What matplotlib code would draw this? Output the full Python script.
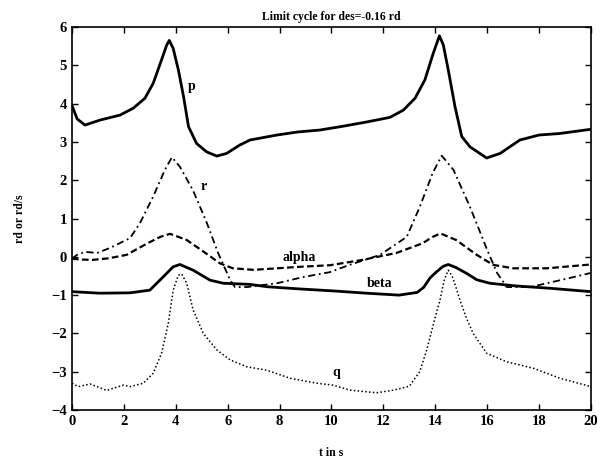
import numpy as np
import matplotlib
matplotlib.use('Agg')
from matplotlib import pyplot as plt

plt.rcParams['font.family'] = ['Liberation Serif', 'DejaVu Serif']
plt.rcParams['font.weight'] = 'bold'

# p (solid, thick)
t_p = [0, 0.2, 0.5, 1.08, 1.85, 2.36, 2.81, 3.13, 3.45, 3.65, 3.75, 3.9, 4.1, 4.3, 4.49, 4.8,
       5.19, 5.58, 5.96, 6.47, 6.86, 7.9, 8.7, 9.55, 10.45, 11.35, 12.25, 12.77, 13.22, 13.6,
       13.92, 14.16, 14.31, 14.5, 14.76, 15.02, 15.34, 15.98, 16.5, 17.26, 18.0, 18.8, 20.0]
p = [3.95, 3.6, 3.44, 3.57, 3.7, 3.88, 4.14, 4.53, 5.14, 5.53, 5.65, 5.44, 4.88, 4.18, 3.4, 2.96,
     2.74, 2.63, 2.7, 2.92, 3.05, 3.18, 3.26, 3.31, 3.41, 3.52, 3.64, 3.83, 4.14, 4.62,
     5.31, 5.77, 5.53, 4.88, 3.92, 3.14, 2.87, 2.58, 2.7, 3.05, 3.18, 3.22, 3.33]

# r (dash-dot)
t_r = [0, 0.19, 0.5, 0.96, 1.46, 2.24, 2.62, 3.12, 3.58, 3.85, 4.16, 4.66, 5.2, 5.63, 6.09, 6.28,
       6.74, 7.9, 8.9, 9.94, 10.7, 11.87, 12.9, 13.4, 13.9, 14.25, 14.7, 15.34, 16.0, 16.38,
       16.76, 17.65, 18.3, 19.2, 20.0]
r = [-0.05, 0.05, 0.13, 0.1, 0.23, 0.49, 0.88, 1.56, 2.27, 2.6, 2.35, 1.74, 0.88, 0.1, -0.6, -0.79,
     -0.79, -0.69, -0.53, -0.4, -0.21, 0.05, 0.52, 1.3, 2.19, 2.64, 2.27, 1.3, 0.18, -0.42,
     -0.79, -0.79, -0.69, -0.55, -0.42]

# alpha (dashed)
t_a = [0, 0.3, 0.8, 1.4, 2.1, 2.9, 3.4, 3.78, 4.42, 5.06, 5.7, 6.2, 7.0, 7.9, 8.8, 9.94, 11.2,
       12.5, 13.5, 13.9, 14.2, 14.8, 15.6, 16.23, 17.0, 18.3, 20.0]
alpha = [-0.05, -0.07, -0.08, -0.04, 0.05, 0.35, 0.52, 0.6, 0.44, 0.14, -0.17, -0.3, -0.34, -0.3,
         -0.26, -0.22, -0.08, 0.1, 0.35, 0.52, 0.61, 0.44, 0.05, -0.21, -0.3, -0.3, -0.2]

# beta (solid, thick)
t_b = [0, 1.08, 2.24, 3.0, 3.52, 3.9, 4.16, 4.67, 5.32, 5.83, 6.86, 7.5, 8.8, 10.06, 11.35,
       12.6, 13.3, 13.55, 13.8, 14.05, 14.3, 14.5, 14.8, 15.2, 15.6, 16.1, 17.1, 18.4, 20.0]
beta = [-0.91, -0.95, -0.94, -0.87, -0.52, -0.26, -0.2, -0.35, -0.61, -0.69, -0.72, -0.78,
        -0.84, -0.89, -0.95, -1.0, -0.93, -0.8, -0.55, -0.39, -0.25, -0.2, -0.28, -0.43, -0.6,
        -0.69, -0.76, -0.82, -0.91]

# q (dotted)
t_q = [0, 0.24, 0.7, 1.34, 1.98, 2.24, 2.75, 3.13, 3.45, 3.71, 3.9, 4.1, 4.23, 4.42, 4.67, 5.06,
       5.58, 6.09, 6.73, 7.5, 8.4, 9.43, 10.06, 10.7, 11.74, 12.4, 13.0, 13.4, 13.67, 13.95,
       14.18, 14.35, 14.5, 14.65, 14.8, 14.95, 15.2, 15.46, 15.98, 16.75, 17.78, 18.8, 20.0]
q = [-3.3, -3.39, -3.32, -3.49, -3.35, -3.39, -3.3, -3.04, -2.52, -1.74, -0.87, -0.48, -0.45,
     -0.69, -1.39, -2.0, -2.43, -2.69, -2.87, -2.96, -3.17, -3.3, -3.35, -3.48, -3.55, -3.48,
     -3.38, -3.0, -2.43, -1.7, -1.13, -0.6, -0.35, -0.5, -0.8, -1.13, -1.6, -2.0, -2.52, -2.74,
     -2.91, -3.17, -3.39]

fig = plt.figure(figsize=(6.07, 4.61), dpi=100)
ax = fig.add_axes([0.1186, 0.1106, 0.855, 0.8308])

ax.plot(t_p, p, color='black', lw=2.0, solid_joinstyle='round')
ax.plot(t_r, r, color='black', lw=1.3, linestyle=(0, (4, 2, 1, 2)))
ax.plot(t_a, alpha, color='black', lw=1.6, linestyle=(0, (3, 1.5)))
ax.plot(t_b, beta, color='black', lw=2.0, solid_joinstyle='round')
ax.plot(t_q, q, color='black', lw=1.1, linestyle=(0, (1, 1.5)))

ax.text(4.45, 4.35, 'p', fontsize=10, fontweight='bold')
ax.text(4.95, 1.75, 'r', fontsize=10, fontweight='bold')
ax.text(8.1, -0.1, 'alpha', fontsize=10, fontweight='bold')
ax.text(11.35, -0.8, 'beta', fontsize=10, fontweight='bold')
ax.text(10.05, -3.1, 'q', fontsize=10, fontweight='bold')

ax.set_xlim(0, 20)
ax.set_ylim(-4, 6)
ax.set_xticks(np.arange(0, 21, 2))
ax.set_yticks(np.arange(-4, 7, 1))
ax.tick_params(direction='in', top=True, right=True, length=4, width=1, labelsize=10.5)
for lbl in ax.get_xticklabels() + ax.get_yticklabels():
    lbl.set_fontweight('bold')
for s in ax.spines.values():
    s.set_linewidth(1.2)

ax.set_title('Limit cycle for des=-0.16 rd', fontsize=8.5, fontweight='bold', pad=5)
ax.set_xlabel('t in s', fontsize=8.5, fontweight='bold', labelpad=14)
ax.set_ylabel('rd or rd/s', fontsize=8.5, fontweight='bold', labelpad=18)

fig.savefig('out.png', dpi=100)
